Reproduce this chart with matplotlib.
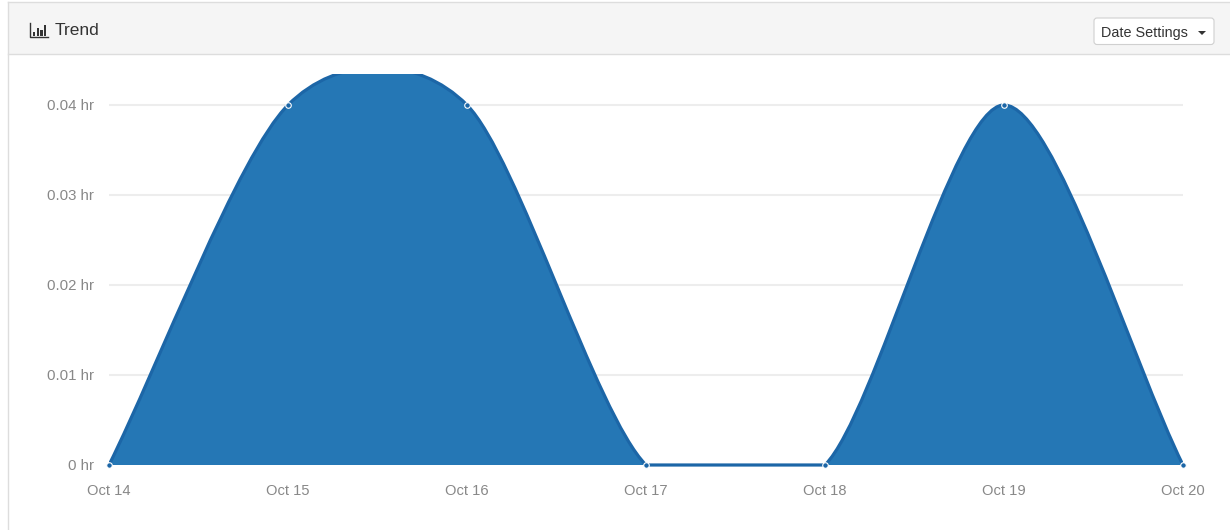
import matplotlib
matplotlib.use("Agg")
import matplotlib.pyplot as plt
from matplotlib.patches import FancyBboxPatch, PathPatch, Polygon, Rectangle
from matplotlib.path import Path

plt.rcParams['font.family'] = ['Liberation Sans', 'DejaVu Sans']

dates = ["Oct 14", "Oct 15", "Oct 16", "Oct 17", "Oct 18", "Oct 19", "Oct 20"]
hours = [0, 0.04, 0.04, 0, 0, 0.04, 0]
y_ticks = [0, 0.01, 0.02, 0.03, 0.04]
y_labels = ["0 hr", "0.01 hr", "0.02 hr", "0.03 hr", "0.04 hr"]
icon_bars = [4, 8, 6, 11]

W, H = 1230, 530
FILL = "#2577b5"
LINE = "#1c66a7"
GRID = "#ededed"
TICK = "#888888"
HANDLE = 0.28


# smooth line through the values, same idea as the morris.js area chart
# control points are kept above zero so the flat part stays on the baseline
def smooth_path(values):
    n = len(values)
    grads = []
    for i in range(n):
        if i == 0:
            grads.append(values[1] - values[0])
        elif i == n - 1:
            grads.append(values[i] - values[i - 1])
        else:
            grads.append((values[i + 1] - values[i - 1]) / 2)
    verts = [(0, values[0])]
    codes = [Path.MOVETO]
    for i in range(1, n):
        verts.append((i - 1 + HANDLE, max(0, values[i - 1] + HANDLE * grads[i - 1])))
        verts.append((i - HANDLE, max(0, values[i] - HANDLE * grads[i])))
        verts.append((i, values[i]))
        codes += [Path.CURVE4] * 3
    return verts, codes


fig = plt.figure(figsize=(W / 100, H / 100), dpi=100, facecolor="white")

# page chrome drawn in pixel coordinates
bg = fig.add_axes([0, 0, 1, 1])
bg.set_xlim(0, W)
bg.set_ylim(H, 0)
bg.axis("off")
bg.add_patch(Rectangle((8, 2), W, 52, fc="#f5f5f5", ec="none"))
bg.plot([8, W], [2, 2], color="#dddddd", lw=1)
bg.plot([8, W], [54, 54], color="#dddddd", lw=1)
bg.plot([8, 8], [2, H], color="#dddddd", lw=1)

for i, h in enumerate(icon_bars):
    bg.add_patch(Rectangle((33 + i * 3.6, 35.5 - h), 2.3, h, fc="#333333", ec="none"))
bg.plot([29.5, 29.5, 48], [23, 36.8, 36.8], color="#333333", lw=1)
bg.text(55, 30.5, "Trend", fontsize=12.5, color="#333333", va="center", ha="left")

bg.add_patch(FancyBboxPatch((1094, 18), 120, 26.5, boxstyle="round,pad=0,rounding_size=3",
                            fc="white", ec="#d0d0d0", lw=0.8))
bg.text(1101, 32.5, "Date Settings", fontsize=10.4, color="#333333", va="center", ha="left")
bg.add_patch(Polygon([[1198, 31], [1206, 31], [1202, 35]], fc="#333333", ec="none"))

# chart area, y runs 9000 px per hour from the baseline at 465
left, right, top, bottom = 109, 1183, 74, 470
ax = fig.add_axes([left / W, 1 - bottom / H, (right - left) / W, (bottom - top) / H])
ax.patch.set_alpha(0)
ax.set_xlim(0, len(dates) - 1)
ax.set_ylim(-(bottom - 465) / 9000, (465 - top) / 9000)
for s in ax.spines.values():
    s.set_visible(False)

for v in y_ticks[1:]:
    ax.axhline(v, color=GRID, lw=1.5, zorder=1)

verts, codes = smooth_path(hours)
area_verts = verts + [(len(dates) - 1, 0), (0, 0), (0, 0)]
area_codes = codes + [Path.LINETO, Path.LINETO, Path.CLOSEPOLY]
ax.add_patch(PathPatch(Path(area_verts, area_codes), fc=FILL, ec="none", zorder=2))
ax.add_patch(PathPatch(Path(verts, codes), fc="none", ec=LINE, lw=2.3, snap=False, zorder=3))
ax.plot(range(len(dates)), hours, ls="none", marker="o", ms=4, mfc=LINE,
        mec="white", mew=0.8, clip_on=False, zorder=4)

ax.set_xticks(range(len(dates)))
ax.set_xticklabels(dates, fontsize=10.6, color=TICK)
ax.set_yticks(y_ticks)
ax.set_yticklabels(y_labels, fontsize=10.8, color=TICK)
ax.tick_params(axis="both", length=0)
ax.tick_params(axis="x", pad=10)
ax.tick_params(axis="y", pad=11)

fig.savefig("out.png", dpi=100)
